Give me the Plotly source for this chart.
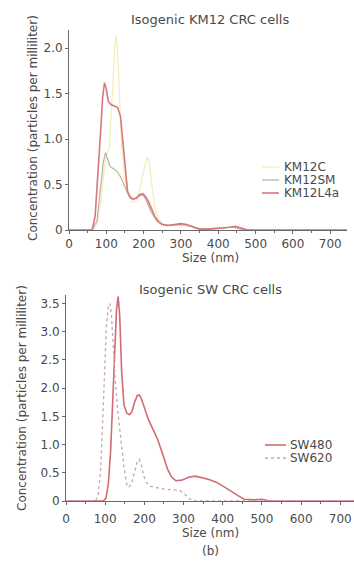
import plotly.graph_objects as go

W, H = 354, 563

# ---------------- data ----------------
top_title = "Isogenic KM12 CRC cells"
bot_title = "Isogenic SW CRC cells"
x_title = "Size (nm)"
y_title = "Concentration (particles per milliliter)"
caption = "(b)"

x_ticks = [0, 100, 200, 300, 400, 500, 600, 700]
top_y_ticks = [0, 0.5, 1.0, 1.5, 2.0]
top_y_labels = ["0", "0.5", "1.0", "1.5", "2.0"]
bot_y_ticks = [0, 0.5, 1.0, 1.5, 2.0, 2.5, 3.0, 3.5]
bot_y_labels = ["0", "0.5", "1.0", "1.5", "2.0", "2.5", "3.0", "3.5"]

km12c_x = [0, 60, 75, 85, 95, 100, 108, 115, 120, 125, 130, 135, 140, 150, 160, 170, 180, 190,
           200, 210, 215, 222, 230, 240, 250, 270, 300, 330, 360, 400, 440, 480, 745]
km12c_y = [0, 0, 0.05, 0.3, 0.7, 0.82, 0.9, 1.4, 1.9, 2.15, 2.0, 1.5, 1.0, 0.55, 0.38, 0.3, 0.32, 0.45,
           0.65, 0.8, 0.75, 0.5, 0.25, 0.12, 0.07, 0.05, 0.06, 0.03, 0.01, 0.02, 0.03, 0, 0]

km12sm_x = [0, 62, 75, 85, 92, 98, 104, 110, 120, 130, 140, 148, 155, 162, 170, 180, 190, 200,
            210, 220, 235, 250, 270, 300, 320, 350, 400, 440, 470, 745]
km12sm_y = [0, 0, 0.1, 0.45, 0.75, 0.85, 0.78, 0.7, 0.67, 0.64, 0.57, 0.5, 0.42, 0.36, 0.34, 0.35, 0.38, 0.38,
            0.3, 0.2, 0.1, 0.06, 0.05, 0.06, 0.05, 0.01, 0.02, 0.03, 0, 0]

km12l4a_x = [0, 62, 70, 78, 85, 90, 95, 100, 105, 112, 120, 130, 138, 143, 150, 157, 165, 172, 180,
             190, 198, 205, 212, 220, 230, 240, 250, 265, 280, 300, 315, 330, 350, 380, 410, 430,
             445, 460, 480, 745]
km12l4a_y = [0, 0, 0.15, 0.6, 1.1, 1.45, 1.62, 1.55, 1.42, 1.38, 1.37, 1.35, 1.25, 1.05, 0.7, 0.42, 0.36, 0.34, 0.35,
             0.39, 0.4, 0.37, 0.32, 0.24, 0.15, 0.09, 0.06, 0.05, 0.06, 0.07, 0.06, 0.04, 0.01, 0.01, 0.02, 0.03,
             0.04, 0.02, 0, 0]

sw480_x = [0, 95, 102, 108, 114, 120, 125, 129, 133, 137, 142, 148, 155, 162, 168, 175, 182, 187, 192,
           200, 210, 220, 234, 248, 260, 270, 280, 295, 313, 330, 345, 365, 385, 400, 420, 440, 455,
           480, 500, 520, 735]
sw480_y = [0, 0, 0.05, 0.3, 0.9, 1.9, 2.8, 3.4, 3.62, 3.3, 2.3, 1.7, 1.56, 1.53, 1.58, 1.75, 1.87, 1.88, 1.82,
           1.65, 1.45, 1.3, 1.09, 0.8, 0.55, 0.42, 0.36, 0.37, 0.42, 0.44, 0.42, 0.38, 0.33, 0.27, 0.18, 0.09, 0.03,
           0.02, 0.03, 0.0, 0]

sw620_x = [0, 75, 82, 88, 93, 98, 103, 108, 112, 116, 120, 125, 132, 140, 148, 155, 160, 167, 175,
           182, 187, 192, 198, 205, 215, 230, 250, 270, 290, 303, 315, 325, 735]
sw620_y = [0, 0, 0.1, 0.5, 1.3, 2.3, 3.1, 3.45, 3.5, 3.3, 2.8, 2.2, 1.6, 1.1, 0.6, 0.3, 0.24, 0.3, 0.5,
           0.7, 0.74, 0.65, 0.45, 0.33, 0.26, 0.24, 0.21, 0.2, 0.19, 0.12, 0.04, 0, 0]

top_names = ["KM12C", "KM12SM", "KM12L4a"]
bot_names = ["SW480", "SW620"]

# ---------------- styles ----------------
FONT = "DejaVu Sans"
TXT = "#4a4a4a"
AX = "#6a6a6a"
top_styles = [dict(color="#f2eeb4", width=1.2),
              dict(color="#b9b39a", width=1.2),
              dict(color="#d9777e", width=1.6)]
bot_styles = [dict(color="#d46a72", width=1.6),
              dict(color="#c7a7a9", width=1.3, dash="dot")]


def px_x(p):
    return p / W


def px_y(p):
    return 1 - p / H


fig = go.Figure()
for xs, ys, nm, st in zip([km12c_x, km12sm_x, km12l4a_x], [km12c_y, km12sm_y, km12l4a_y],
                          top_names, top_styles):
    fig.add_trace(go.Scatter(x=xs, y=ys, name=nm, mode="lines", line=st,
                             xaxis="x", yaxis="y", showlegend=False))
for xs, ys, nm, st in zip([sw480_x, sw620_x], [sw480_y, sw620_y], bot_names, bot_styles):
    fig.add_trace(go.Scatter(x=xs, y=ys, name=nm, mode="lines", line=st,
                             xaxis="x2", yaxis="y2", showlegend=False))

axis_common = dict(showgrid=False, zeroline=False, showline=True, linecolor=AX, linewidth=1,
                   ticks="outside", ticklen=3, tickcolor=AX, tickwidth=1, automargin=False,
                   tickfont=dict(family=FONT, size=12, color=TXT), fixedrange=True)

fig.update_layout(
    template="none",
    width=W, height=H, margin=dict(l=0, r=0, t=0, b=0, pad=0),
    paper_bgcolor="white", plot_bgcolor="white",
    xaxis=dict(domain=[px_x(69), px_x(347)], range=[0, 745], anchor="y",
               tickvals=x_ticks, minor=dict(dtick=50, ticks="outside", ticklen=2, tickcolor=AX),
               **axis_common),
    yaxis=dict(domain=[px_y(230), px_y(30)], range=[0, 2.2], anchor="x",
               tickvals=top_y_ticks, ticktext=top_y_labels, **axis_common),
    xaxis2=dict(domain=[px_x(66), px_x(354)], range=[0, 735], anchor="y2",
                tickvals=x_ticks, minor=dict(dtick=50, ticks="outside", ticklen=2, tickcolor=AX),
                ticklabelstandoff=4, **axis_common),
    yaxis2=dict(domain=[px_y(501), px_y(295)], range=[0, 3.65], anchor="x2",
                tickvals=bot_y_ticks, ticktext=bot_y_labels, **axis_common),
    showlegend=False,
)

ann = []
def add_text(text, x, y, size, angle=0, xanchor="center", color=TXT):
    ann.append(dict(text=text, x=px_x(x), y=px_y(y), xref="paper", yref="paper",
                    showarrow=False, textangle=angle, xanchor=xanchor, yanchor="middle",
                    font=dict(family=FONT, size=size, color=color)))

add_text(top_title, 210, 20, 13)
add_text(bot_title, 210, 289, 13)
add_text(x_title, 210, 258, 12)
add_text(x_title, 210, 533, 12)
add_text(caption, 210, 551, 12)
add_text(y_title, 33, 128, 12, angle=-90)
add_text(y_title, 22, 398, 12, angle=-90)

shapes = []
# top legend
for i, (nm, st) in enumerate(zip(top_names, top_styles)):
    yy = 167 + i * 13
    shapes.append(dict(type="line", xref="paper", yref="paper", x0=px_x(262), x1=px_x(279),
                       y0=px_y(yy), y1=px_y(yy), line=st))
    add_text(nm, 282, yy, 12, xanchor="left")
# bottom legend
for i, (nm, st) in enumerate(zip(bot_names, bot_styles)):
    yy = 445 + i * 13
    shapes.append(dict(type="line", xref="paper", yref="paper", x0=px_x(265), x1=px_x(286),
                       y0=px_y(yy), y1=px_y(yy), line=st))
    add_text(nm, 288, yy, 12, xanchor="left")

fig.update_layout(annotations=ann, shapes=shapes)
fig.write_html("out.html")
